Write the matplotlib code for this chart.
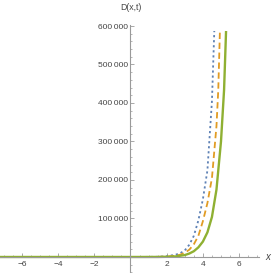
import matplotlib
matplotlib.use("Agg")
import matplotlib.pyplot as plt
from matplotlib.ticker import FixedLocator, MultipleLocator, FixedFormatter

# ---- data ----
blue_x = [-7.3, 0.0, 1.5, 2.0, 2.25, 2.5, 2.75, 3.0, 3.25, 3.5, 3.75, 4.0, 4.25, 4.5, 4.63]
blue_y = [0, 0, 500, 2000, 4000, 6000, 10000, 17000, 32000, 55000, 95000, 150000, 225000, 405000, 587000]

orange_x = [-7.3, 0.0, 1.5, 2.0, 2.5, 2.75, 3.0, 3.25, 3.5, 3.75, 4.0, 4.25, 4.5, 4.75, 4.85, 4.94]
orange_y = [0, 0, 300, 1000, 3500, 6000, 11000, 19000, 33000, 55000, 93000, 140000, 205000, 340000, 434000, 587000]

green_x = [-7.3, 0.0, 1.5, 2.0, 2.5, 3.0, 3.25, 3.5, 3.75, 4.0, 4.25, 4.5, 4.75, 5.0, 5.17, 5.28]
green_y = [0, 0, 100, 500, 1500, 5000, 9000, 15000, 25000, 40000, 64000, 104000, 175000, 300000, 434000, 587000]

x_ticks = [-6, -4, -2, 2, 4, 6]
x_tick_labels = ["\u22126", "\u22124", "\u22122", "2", "4", "6"]
y_ticks = [100000, 200000, 300000, 400000, 500000, 600000]
y_tick_labels = ["100\u2009000", "200\u2009000", "300\u2009000", "400\u2009000", "500\u2009000", "600\u2009000"]

FONT = ["Liberation Sans Narrow", "Liberation Sans", "DejaVu Sans"]

# ---- figure ----
fig = plt.figure(figsize=(2.73, 2.73), dpi=100)
W, H = 273.0, 273.0
ax = fig.add_axes([0, 0, 259 / W, 248 / H])
ax.set_xlim(-7.21, 7.10)
ax.set_ylim(-41600, 602600)

ax.plot(blue_x, blue_y, color="#5E81B5", lw=1.3, ls=(0, (1.2, 1.6)), solid_capstyle="butt", clip_on=False)
ax.plot(orange_x, orange_y, color="#E19C24", lw=1.3, ls=(0, (3.5, 2.0)), clip_on=False)
ax.plot(green_x, green_y, color="#8FB032", lw=1.7, solid_capstyle="butt", clip_on=False)

for s in ["top", "right"]:
    ax.spines[s].set_visible(False)
ax.spines["left"].set_position(("data", 0))
ax.spines["bottom"].set_position(("data", 0))
for s in ["left", "bottom"]:
    ax.spines[s].set_color("#9a9a9a")
    ax.spines[s].set_linewidth(0.8)
ax.patch.set_visible(False)

ax.xaxis.set_major_locator(FixedLocator(x_ticks))
ax.xaxis.set_major_formatter(FixedFormatter(x_tick_labels))
ax.xaxis.set_minor_locator(MultipleLocator(0.5))
ax.yaxis.set_major_locator(FixedLocator(y_ticks))
ax.yaxis.set_major_formatter(FixedFormatter(y_tick_labels))
ax.yaxis.set_minor_locator(MultipleLocator(20000))

ax.tick_params(axis="both", which="major", direction="in", length=3.0, width=0.6,
               color="#9a9a9a", labelsize=6.0, labelcolor="#444444")
ax.tick_params(axis="both", which="minor", direction="in", length=1.6, width=0.5, color="#9a9a9a")
ax.tick_params(axis="x", which="major", pad=3)
ax.tick_params(axis="y", which="major", pad=2)
for lab in ax.get_xticklabels() + ax.get_yticklabels():
    lab.set_family(FONT)

fig.text(131 / W, 1 - 8 / H, "D(x,t)", ha="center", va="center", fontsize=6.3,
         color="#444444", family=FONT)
fig.text(268 / W, 1 - 257 / H, "x", ha="center", va="center", fontsize=7,
         color="#444444", family=FONT, style="italic")

fig.savefig("out.png", dpi=100)
